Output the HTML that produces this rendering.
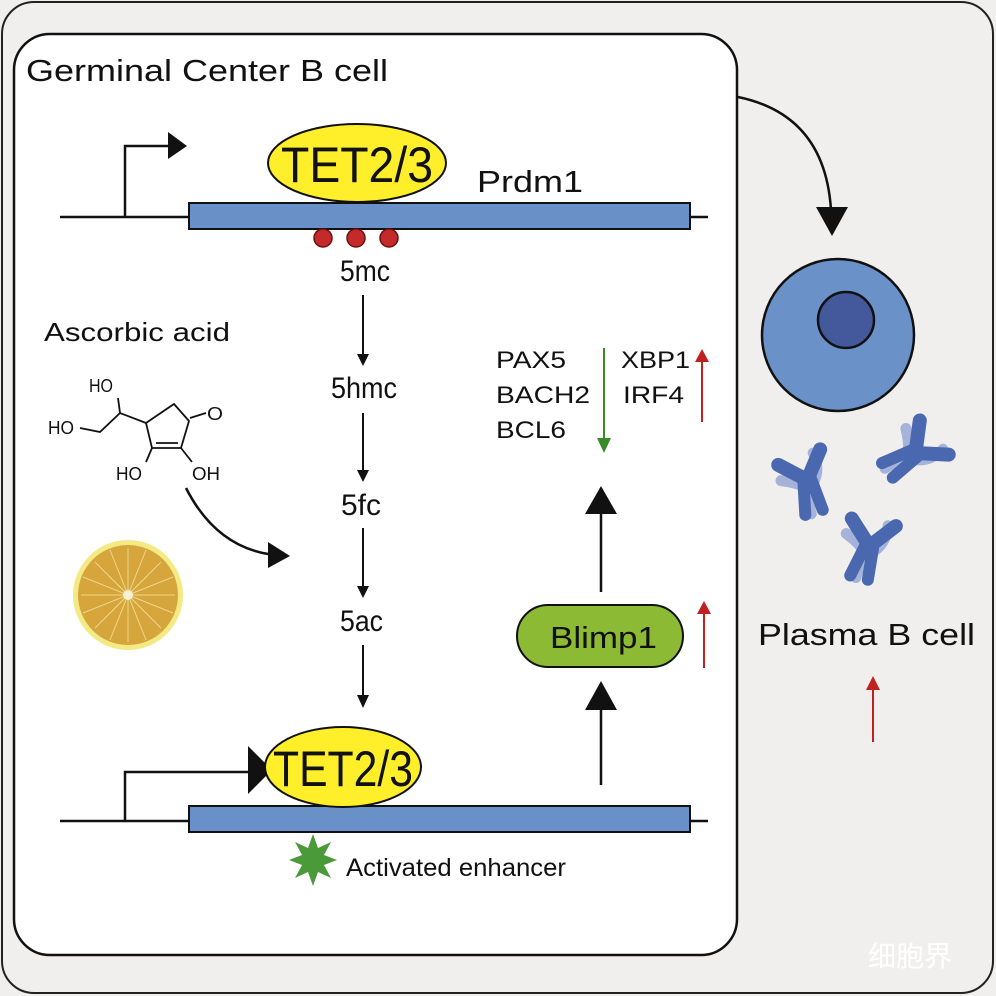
<!DOCTYPE html>
<html><head><meta charset="utf-8"><style>
html,body{margin:0;padding:0;background:#f0efed;}
svg{display:block;}
text{font-family:"Liberation Sans",sans-serif;fill:#111;}
</style></head><body>
<svg width="996" height="996" viewBox="0 0 996 996" xmlns="http://www.w3.org/2000/svg">
<defs>
<g id="ab">
 <path d="M-26,-8 Q-12,-4 -4,2 L-2,30" stroke="#a5b3da" stroke-width="11" fill="none" stroke-linecap="round"/>
 <path d="M10,-30 Q16,-14 6,0" stroke="#a5b3da" stroke-width="10" fill="none" stroke-linecap="round"/>
 <path d="M-26,-24 L0,-4 L18,-32" stroke="#4a68b0" stroke-width="14" fill="none" stroke-linecap="round" stroke-linejoin="round"/>
 <path d="M-4,-4 L-8,30 M4,-4 L10,28" stroke="#4a68b0" stroke-width="12" fill="none" stroke-linecap="round"/>
</g>
</defs>
<rect x="0" y="0" width="996" height="996" fill="#f0efed"/>
<rect x="2" y="2" width="991" height="991" rx="32" fill="#f0efed" stroke="#222" stroke-width="2"/>
<rect x="14" y="34" width="723" height="921" rx="36" fill="#fff" stroke="#111" stroke-width="2.5"/>
<text x="26" y="81" font-size="31" textLength="362" lengthAdjust="spacingAndGlyphs">Germinal Center B cell</text>

<!-- top gene -->
<line x1="60" y1="217" x2="708" y2="217" stroke="#111" stroke-width="2.5"/>
<polyline points="125,217 125,146 170,146" fill="none" stroke="#111" stroke-width="2.5"/>
<polygon points="168,132 187,146 168,159" fill="#111"/>
<rect x="189" y="203" width="501" height="26" fill="#6a90c8" stroke="#111" stroke-width="2"/>
<ellipse cx="357" cy="163" rx="89" ry="39" fill="#ffef2a" stroke="#111" stroke-width="2"/>
<text x="281" y="182" font-size="50" textLength="152" lengthAdjust="spacingAndGlyphs">TET2/3</text>
<text x="477" y="192" font-size="31" textLength="106" lengthAdjust="spacingAndGlyphs">Prdm1</text>
<circle cx="323" cy="238" r="9" fill="#c52a2a" stroke="#6a1010" stroke-width="1.5"/>
<circle cx="356" cy="238" r="9" fill="#c52a2a" stroke="#6a1010" stroke-width="1.5"/>
<circle cx="389" cy="238" r="9" fill="#c52a2a" stroke="#6a1010" stroke-width="1.5"/>

<!-- cascade -->
<g font-size="30">
<text x="340" y="281" textLength="50" lengthAdjust="spacingAndGlyphs">5mc</text>
<text x="331" y="398" textLength="66" lengthAdjust="spacingAndGlyphs">5hmc</text>
<text x="341" y="515" textLength="40" lengthAdjust="spacingAndGlyphs">5fc</text>
<text x="340" y="631" textLength="43" lengthAdjust="spacingAndGlyphs">5ac</text>
</g>
<g stroke="#111" stroke-width="2">
<line x1="363" y1="295" x2="363" y2="356"/>
<line x1="363" y1="413" x2="363" y2="472"/>
<line x1="363" y1="528" x2="363" y2="588"/>
<line x1="363" y1="645" x2="363" y2="700"/>
</g>
<g fill="#111">
<polygon points="357,354 369,354 363,366"/>
<polygon points="357,470 369,470 363,482"/>
<polygon points="357,586 369,586 363,598"/>
<polygon points="357,695 369,695 363,708"/>
</g>

<!-- ascorbic acid -->
<text x="44" y="341" font-size="26" textLength="186" lengthAdjust="spacingAndGlyphs">Ascorbic acid</text>
<g font-size="18">
<text x="89" y="392" textLength="24" lengthAdjust="spacingAndGlyphs">HO</text>
<text x="48" y="434" textLength="26" lengthAdjust="spacingAndGlyphs">HO</text>
<text x="207" y="420" textLength="16" lengthAdjust="spacingAndGlyphs">O</text>
<text x="116" y="480" textLength="26" lengthAdjust="spacingAndGlyphs">HO</text>
<text x="192" y="480" textLength="28" lengthAdjust="spacingAndGlyphs">OH</text>
</g>
<g stroke="#111" stroke-width="1.8" fill="none">
<line x1="118" y1="398" x2="120" y2="413"/>
<polyline points="80,428 100,432 120,413 146,423"/>
<polygon points="146,423 174,404 189,421 181,448 152,448"/>
<line x1="156" y1="443" x2="178" y2="443"/>
<line x1="190" y1="418" x2="206" y2="413"/>
<line x1="152" y1="448" x2="146" y2="462"/>
<line x1="181" y1="448" x2="192" y2="462"/>
</g>
<path d="M186,488 Q215,545 268,554" stroke="#111" stroke-width="2.5" fill="none"/>
<polygon points="268,542 290,556 268,568" fill="#111"/>
<!-- lemon -->
<circle cx="128" cy="595" r="55" fill="#f3ea86"/>
<circle cx="128" cy="595" r="50" fill="#d6a53c"/>
<g stroke="#efd88a" stroke-width="1">
<line x1="128" y1="548" x2="128" y2="642"/><line x1="81" y1="595" x2="175" y2="595"/>
<line x1="95" y1="562" x2="161" y2="628"/><line x1="161" y1="562" x2="95" y2="628"/>
<line x1="110" y1="550" x2="146" y2="640"/><line x1="146" y1="550" x2="110" y2="640"/>
<line x1="83" y1="577" x2="173" y2="613"/><line x1="83" y1="613" x2="173" y2="577"/>
</g>
<circle cx="128" cy="595" r="5" fill="#f6efd0"/>

<!-- bottom gene -->
<line x1="60" y1="821" x2="708" y2="821" stroke="#111" stroke-width="2.5"/>
<polyline points="125,821 125,772 252,772" fill="none" stroke="#111" stroke-width="2.5"/>
<polygon points="248,746 272,770 248,794" fill="#111"/>
<rect x="189" y="806" width="501" height="26" fill="#6a90c8" stroke="#111" stroke-width="2"/>
<ellipse cx="343" cy="767" rx="78" ry="40" fill="#ffef2a" stroke="#111" stroke-width="2"/>
<text x="273" y="786" font-size="50" textLength="140" lengthAdjust="spacingAndGlyphs">TET2/3</text>
<polygon points="313,834 318,848 331,842 324,855 337,860 324,865 331,878 318,872 313,886 308,872 295,878 302,865 289,860 302,855 295,842 308,848" fill="#4a9a3a"/>
<text x="346" y="876" font-size="25" textLength="220" lengthAdjust="spacingAndGlyphs">Activated enhancer</text>

<!-- right column inside -->
<g font-size="24">
<text x="496" y="368" textLength="70" lengthAdjust="spacingAndGlyphs">PAX5</text>
<text x="496" y="403" textLength="94" lengthAdjust="spacingAndGlyphs">BACH2</text>
<text x="496" y="438" textLength="70" lengthAdjust="spacingAndGlyphs">BCL6</text>
<text x="621" y="368" textLength="69" lengthAdjust="spacingAndGlyphs">XBP1</text>
<text x="623" y="403" textLength="61" lengthAdjust="spacingAndGlyphs">IRF4</text>
</g>
<line x1="604" y1="348" x2="604" y2="440" stroke="#3a8a2a" stroke-width="2"/>
<polygon points="597,438 611,438 604,453" fill="#3a8a2a"/>
<line x1="702" y1="360" x2="702" y2="422" stroke="#c02020" stroke-width="2"/>
<polygon points="695,362 709,362 702,349" fill="#c02020"/>

<line x1="601" y1="512" x2="601" y2="592" stroke="#111" stroke-width="2.5"/>
<polygon points="585,514 617,514 601,486" fill="#111"/>
<rect x="517" y="605" width="166" height="62" rx="31" fill="#8cba34" stroke="#111" stroke-width="2"/>
<text x="550" y="648" font-size="31" textLength="107" lengthAdjust="spacingAndGlyphs">Blimp1</text>
<line x1="704" y1="614" x2="704" y2="668" stroke="#c02020" stroke-width="2"/>
<polygon points="697,614 711,614 704,601" fill="#c02020"/>
<line x1="601" y1="708" x2="601" y2="785" stroke="#111" stroke-width="2.5"/>
<polygon points="585,710 617,710 601,681" fill="#111"/>

<!-- right panel -->
<path d="M738,97 Q825,115 831,210" stroke="#111" stroke-width="2.5" fill="none"/>
<polygon points="816,207 848,207 832,236" fill="#111"/>
<circle cx="838" cy="335" r="76" fill="#6a92c8" stroke="#111" stroke-width="2.5"/>
<circle cx="846" cy="320" r="28" fill="#44589c" stroke="#111" stroke-width="2.5"/>
<use href="#ab" transform="translate(808,484) rotate(-10)"/>
<use href="#ab" transform="translate(912,455) rotate(60)"/>
<use href="#ab" transform="translate(868,550) rotate(20)"/>
<text x="758" y="645" font-size="31" textLength="217" lengthAdjust="spacingAndGlyphs">Plasma B cell</text>
<line x1="873" y1="688" x2="873" y2="742" stroke="#c02020" stroke-width="2"/>
<polygon points="866,690 880,690 873,676" fill="#c02020"/>
<text x="868" y="966" font-size="28" style="fill:#fff;font-family:'Noto Sans CJK SC',sans-serif">细胞界</text>
</svg>
</body></html>
